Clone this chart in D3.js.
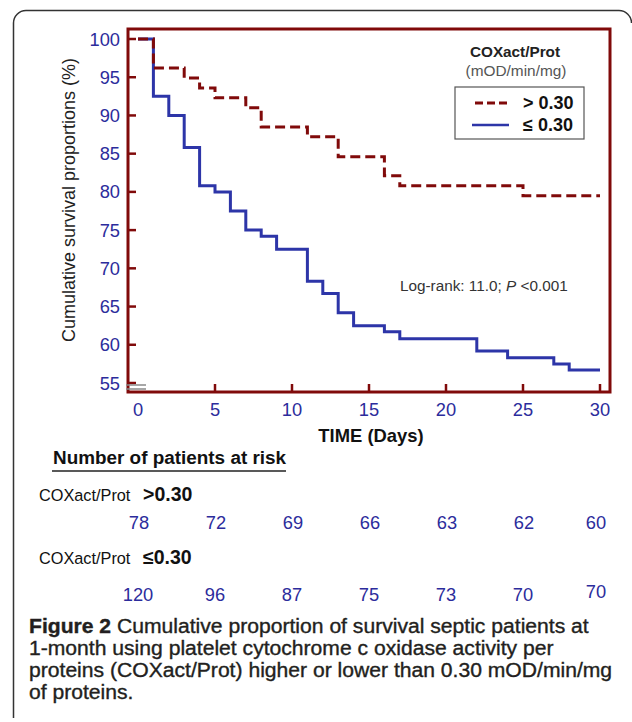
<!DOCTYPE html>
<html>
<head>
<meta charset="utf-8">
<script src="https://cdn.jsdelivr.net/npm/d3@7.9.0/dist/d3.min.js"></script>
<style>
  body { margin: 0; background: #fff; }
  svg { display: block; font-family: Arial, "Liberation Sans", sans-serif; }
</style>
</head>
<body>
<svg id="chart" width="632" height="722"></svg>
<script>
// Kaplan-Meier steps
const highTimes = [0, 1, 3, 4, 5, 7, 8, 11, 13, 16, 17, 25, 30];
const highSurv  = [100, 96.2, 94.9, 93.6, 92.3, 91.0, 88.5, 87.2, 84.6, 82.1, 80.8, 79.5, 79.5];
const lowTimes  = [0, 1, 2, 3, 4, 5, 6, 7, 8, 9, 11, 12, 13, 14, 16, 17, 22, 24, 27, 28, 30];
const lowSurv   = [100, 92.5, 90.0, 85.8, 80.8, 80.0, 77.5, 75.0, 74.2, 72.5, 68.3, 66.7, 64.2, 62.5, 61.7, 60.8, 59.2, 58.3, 57.5, 56.7, 56.7];

const xTicks = [0, 5, 10, 15, 20, 25, 30];
const yTicks = [55, 60, 65, 70, 75, 80, 85, 90, 95, 100];

// patients at risk at each x tick
const riskHigh = [78, 72, 69, 66, 63, 62, 60];
const riskLow  = [120, 96, 87, 75, 73, 70, 70];

const captionLines = [
  ["Figure 2", " Cumulative proportion of survival septic patients at"],
  ["", "1-month using platelet cytochrome c oxidase activity per"],
  ["", "proteins (COXact/Prot) higher or lower than 0.30 mOD/min/mg"],
  ["", "of proteins."]
];

const red = "#800a0a", blue = "#2d35a8", tickBlue = "#2c2c9c";

const svg = d3.select("#chart");

// outer figure border (rounded top corners)
svg.append("path")
  .attr("d", "M13.5,718 V23 A12.5,12.5 0 0 1 26,10.5 H619 A12.5,12.5 0 0 1 631.5,23")
  .attr("fill", "none").attr("stroke", "#333").attr("stroke-width", 1.5);

const x = d3.scaleLinear().domain([0, 30]).range([138, 600]);
const y = d3.scaleLinear().domain([55, 100]).range([383, 39]);

const frame = { left: 128, top: 29, right: 610, bottom: 392 };

// ticks (inside)
svg.append("g").selectAll("line").data(yTicks.filter(d => d > 55)).join("line")
  .attr("x1", frame.left).attr("x2", frame.left + 8)
  .attr("y1", d => y(d)).attr("y2", d => y(d))
  .attr("stroke", red).attr("stroke-width", 2.5);
svg.append("g").selectAll("line").data(xTicks.filter(d => d > 0)).join("line")
  .attr("x1", d => x(d)).attr("x2", d => x(d))
  .attr("y1", frame.bottom).attr("y2", frame.bottom - 8)
  .attr("stroke", red).attr("stroke-width", 2.5);

// tick labels
svg.append("g").selectAll("text").data(yTicks).join("text")
  .attr("x", 120).attr("y", d => y(d) + 6.5)
  .attr("text-anchor", "end").attr("font-size", 18.3).attr("fill", tickBlue)
  .text(d => d);
svg.append("g").selectAll("text").data(xTicks).join("text")
  .attr("x", d => x(d)).attr("y", 416)
  .attr("text-anchor", "middle").attr("font-size", 18.3).attr("fill", tickBlue)
  .text(d => d);

// survival curves
const line = d3.line().curve(d3.curveStepAfter)
  .x(d => x(d[0])).y(d => y(d[1]));

svg.append("path")
  .datum(lowTimes.map((t, i) => [t, lowSurv[i]]))
  .attr("d", line)
  .attr("fill", "none").attr("stroke", blue).attr("stroke-width", 3);

svg.append("path")
  .datum(highTimes.map((t, i) => [t, highSurv[i]]))
  .attr("d", line)
  .attr("fill", "none").attr("stroke", red).attr("stroke-width", 3)
  .attr("stroke-dasharray", "10,5");

// plot frame
svg.append("rect")
  .attr("x", frame.left).attr("y", frame.top)
  .attr("width", frame.right - frame.left).attr("height", frame.bottom - frame.top)
  .attr("fill", "none").attr("stroke", red).attr("stroke-width", 3);

// axis break mark at 55
svg.append("line").attr("x1", frame.left).attr("x2", frame.left + 8)
  .attr("y1", y(55)).attr("y2", y(55)).attr("stroke", red).attr("stroke-width", 2.5);
[385, 389].forEach(yy => {
  svg.append("line").attr("x1", 126).attr("x2", 146)
    .attr("y1", yy).attr("y2", yy).attr("stroke", "#8a8a8a").attr("stroke-width", 1.5);
});

// axis titles
svg.append("text")
  .attr("transform", "translate(74.5,200) rotate(-90)")
  .attr("text-anchor", "middle").attr("font-size", 18).attr("fill", "#222")
  .text("Cumulative survival proportions (%)");

svg.append("text")
  .attr("x", 371).attr("y", 442).attr("text-anchor", "middle")
  .attr("font-size", 18.4).attr("font-weight", "bold").attr("fill", "#111")
  .text("TIME (Days)");

// legend
svg.append("text").attr("x", 515).attr("y", 57).attr("text-anchor", "middle")
  .attr("font-size", 15.3).attr("font-weight", "bold").attr("fill", "#222")
  .text("COXact/Prot");
svg.append("text").attr("x", 516).attr("y", 76).attr("text-anchor", "middle")
  .attr("font-size", 15.4).attr("fill", "#555")
  .text("(mOD/min/mg)");
svg.append("rect").attr("x", 455).attr("y", 87).attr("width", 129).attr("height", 52)
  .attr("fill", "#fff").attr("stroke", "#555").attr("stroke-width", 1.2);
svg.append("line").attr("x1", 475).attr("x2", 509).attr("y1", 103).attr("y2", 103)
  .attr("stroke", red).attr("stroke-width", 3).attr("stroke-dasharray", "8,4");
svg.append("line").attr("x1", 472).attr("x2", 509).attr("y1", 125).attr("y2", 125)
  .attr("stroke", blue).attr("stroke-width", 2.5);
svg.append("text").attr("x", 523).attr("y", 109)
  .attr("font-size", 18).attr("font-weight", "bold").attr("fill", "#111").text("> 0.30");
svg.append("text").attr("x", 523).attr("y", 131)
  .attr("font-size", 18).attr("font-weight", "bold").attr("fill", "#111").text("\u2264 0.30");

// log-rank note
const lr = svg.append("text").attr("x", 400).attr("y", 291)
  .attr("font-size", 15.3).attr("fill", "#333");
lr.append("tspan").text("Log-rank: 11.0; ");
lr.append("tspan").attr("font-style", "italic").text("P");
lr.append("tspan").text(" <0.001");

// number at risk
svg.append("text").attr("x", 53).attr("y", 464)
  .attr("font-size", 18.9).attr("font-weight", "bold").attr("fill", "#111")
  .text("Number of patients at risk");
svg.append("line").attr("x1", 52).attr("x2", 286).attr("y1", 471).attr("y2", 471)
  .attr("stroke", "#222").attr("stroke-width", 1.5);

function groupLabel(yy, sign) {
  svg.append("text").attr("x", 39).attr("y", yy)
    .attr("font-size", 16.3).attr("fill", "#111").text("COXact/Prot");
  svg.append("text").attr("x", 143).attr("y", yy)
    .attr("font-size", 19.5).attr("font-weight", "bold").attr("fill", "#111").text(sign + "0.30");
}
groupLabel(501, ">");
groupLabel(564, "\u2264");

svg.append("g").selectAll("text").data(riskHigh).join("text")
  .attr("x", (d, i) => x(xTicks[i]) + (i === 6 ? -4 : 1)).attr("y", 529)
  .attr("text-anchor", "middle").attr("font-size", 18.3).attr("fill", tickBlue)
  .text(d => d);
svg.append("g").selectAll("text").data(riskLow).join("text")
  .attr("x", (d, i) => x(xTicks[i]) + (i === 6 ? -4 : 0)).attr("y", (d, i) => i === 6 ? 598 : 601)
  .attr("text-anchor", "middle").attr("font-size", 18.3).attr("fill", tickBlue)
  .text(d => d);

// caption
const cap = svg.append("g").attr("fill", "#231f20")
  .attr("stroke", "#231f20").attr("stroke-width", 0.35);
const capTexts = captionLines.map((ln, i) => {
  const t = cap.append("text").attr("font-size", 19.3);
  if (ln[0]) t.append("tspan").attr("font-weight", "bold").text(ln[0]);
  t.append("tspan").text(ln[1]);
  return t;
});
// stretch horizontally so the widest line spans its width in the figure
const k = 583 / capTexts[2].node().getComputedTextLength();
capTexts.forEach((t, i) => t.attr("transform", `translate(29,${633 + i * 22}) scale(${k},1)`));
</script>
</body>
</html>
